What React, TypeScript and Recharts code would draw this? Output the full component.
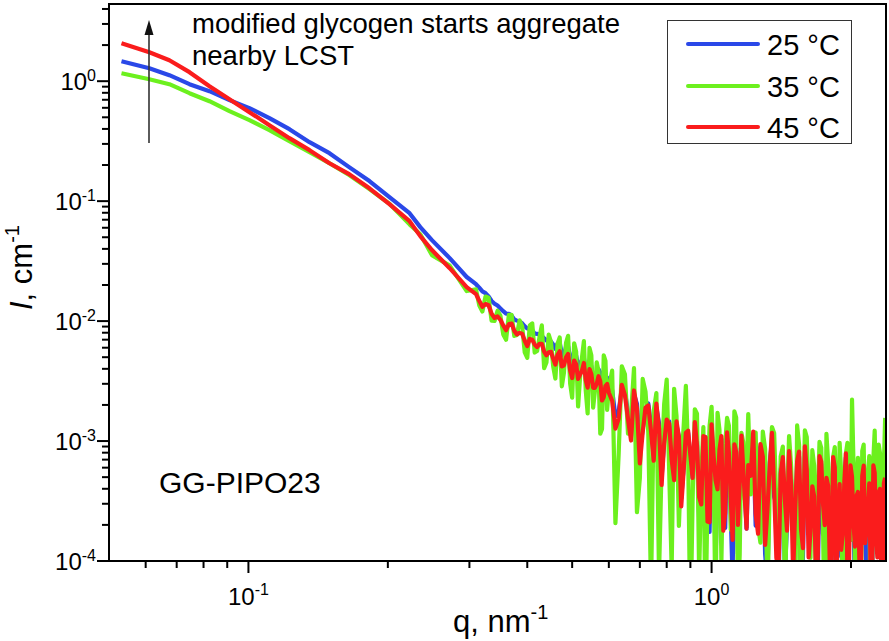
import React from 'react'
import { LineChart, Line, XAxis, YAxis } from 'recharts'

const FONT = '"Liberation Sans", Arial, sans-serif'

// q, nm^-1 — smooth low-q part, the noisy high-q grid and the points between it
const Q_LOW = [
  0.0532, 0.0611, 0.0675, 0.0746, 0.0824, 0.091, 0.1005, 0.111, 0.1226, 0.1355,
  0.1496, 0.165, 0.1825, 0.2016, 0.2228, 0.235, 0.249, 0.272, 0.296,
]
const Q_HIGH = [
  0.31, 0.32, 0.33, 0.34, 0.35, 0.36, 0.37, 0.38, 0.39, 0.4, 0.41, 0.42, 0.43, 0.44, 0.45,
  0.46, 0.47, 0.48, 0.49, 0.5, 0.51, 0.52, 0.53, 0.54, 0.55, 0.56, 0.57, 0.58, 0.59, 0.6,
  0.62, 0.64, 0.66, 0.68, 0.7, 0.72, 0.74, 0.76, 0.78, 0.8, 0.82, 0.84, 0.86, 0.88, 0.9,
  0.92, 0.94, 0.96, 0.98, 1.0, 1.02, 1.04, 1.06, 1.08, 1.1, 1.12, 1.14, 1.16, 1.18, 1.2,
  1.23, 1.26, 1.29, 1.32, 1.35, 1.38, 1.41, 1.44, 1.47, 1.5, 1.53, 1.56, 1.59, 1.62, 1.65,
  1.68, 1.71, 1.74, 1.77, 1.8, 1.83, 1.86, 1.89, 1.92, 1.95, 1.98, 2.01, 2.04, 2.07, 2.1,
  2.13, 2.16, 2.19, 2.22, 2.25, 2.28, 2.31, 2.34, 2.37,
]
const Q_MID = [
  0.315, 0.325, 0.335, 0.345, 0.355, 0.365, 0.375, 0.385, 0.395, 0.405, 0.415, 0.425, 0.435, 0.445, 0.455,
  0.465, 0.475, 0.485, 0.495, 0.505, 0.515, 0.525, 0.535, 0.545, 0.555, 0.565, 0.575, 0.585, 0.595,
  0.61, 0.63, 0.65, 0.67, 0.69, 0.71, 0.73, 0.75, 0.77, 0.79, 0.81, 0.83, 0.85, 0.87, 0.89,
  0.91, 0.93, 0.95, 0.97, 0.99, 1.01, 1.03, 1.05, 1.07, 1.09, 1.11, 1.13, 1.15, 1.17, 1.19,
  1.215, 1.245, 1.275, 1.305, 1.335, 1.365, 1.395, 1.425, 1.455, 1.485, 1.515, 1.545, 1.575,
  1.605, 1.635, 1.665, 1.695, 1.725, 1.755, 1.785, 1.815, 1.845, 1.875, 1.905, 1.935, 1.965,
  1.995, 2.025, 2.055, 2.085, 2.115, 2.145, 2.175, 2.205, 2.235, 2.265, 2.295, 2.325, 2.355,
]

// I, cm^-1 at 25 °C
const I_25_LOW = [
  1.468, 1.283, 1.122, 0.944, 0.825, 0.695, 0.596, 0.492, 0.398, 0.31, 0.251, 0.192,
  0.147, 0.108, 0.0794, 0.0607, 0.0473, 0.0335, 0.0233,
]
const I_25_HIGH = [
  0.0203, 0.01769, 0.01606, 0.01396, 0.01276, 0.01156, 0.0111, 0.01009, 0.00958, 0.00867,
  0.00838, 0.00783, 0.00754, 0.00688, 0.00677,
  0.00588, 0.00657, 0.00512, 0.0062, 0.0044, 0.00516, 0.00434, 0.00494, 0.0034, 0.00421,
  0.0034, 0.00397, 0.00266, 0.00333, 0.00278,
  0.00161, 0.00273, 0.00172, 0.00246, 0.000815, 0.00182, 0.00135, 0.00191, 0.000496, 0.00145,
  0.00081, 0.00136, 0.000333, 0.00108, 0.000714,
  0.00112, 0.000225, 0.000876, 0.000355, 0.00117, 0.000101, 0.000852, 0.000383, 0.000995, 0.000243,
  0.000885, 0.000115, 0.000945, 0.000378, 0.000629,
  0.001, 0.000241, 0.000693, 0.0000669, 0.001, 0.000296, 0.000578, 0.0000806, 0.000747, 0.00023,
  0.000639, 0.0000442, 0.000796, 0.000285, 0.000455, 0.000104, 0.00068, 0.000167, 0.000526, 0.0000455,
  0.000672, 0.000284, 0.000406, 0.000108, 0.00073, 0.00018, 0.000444, 0.0000527, 0.000522, 0.0002,
  0.000566, 0.000084, 0.000388, 0.0000438, 0.000515, 0.000214, 0.000398, 0.0000658, 0.000442,
]
const I_25_MID = [
  0.019, 0.01709, 0.01471, 0.01347, 0.0121, 0.01152, 0.0103, 0.00991, 0.00905, 0.00861,
  0.00784, 0.00775, 0.00718, 0.00688, 0.00639,
  0.00649, 0.00533, 0.00613, 0.00496, 0.00563, 0.00426, 0.00477, 0.00391, 0.00465, 0.00332,
  0.00376, 0.00373, 0.00273, 0.00338,
  0.00265, 0.00176, 0.0026, 0.0011, 0.00204, 0.00126, 0.00206, 0.000754, 0.00141, 0.00102,
  0.00146, 0.000525, 0.00108, 0.000598, 0.00117,
  0.000492, 0.001, 0.000259, 0.00108, 0.000175, 0.000816, 0.000462, 0.00104, 0.000189, 0.000793,
  0.000072, 0.00087, 0.000452, 0.000548, 0.000186,
  0.000564, 0.000197, 0.000897, 0.000114, 0.00066, 0.000343, 0.0000585, 0.000734, 0.000199, 0.000467,
  0.000228, 0.000744, 0.00011, 0.000539, 0.000212, 0.000348, 0.0000616, 0.00064, 0.000232, 0.000392,
  0.0000966, 0.000572, 0.000283, 0.000109, 0.00049, 0.0000453, 0.000596, 0.000235, 0.00032, 0.0000864,
  0.000485, 0.000169, 0.00025, 0.000055, 0.000571, 0.000189, 0.000347, 0.000066, 0.000418,
]

// I, cm^-1 at 35 °C
const I_35_LOW = [
  1.166, 1.039, 0.944, 0.794, 0.681, 0.562, 0.473, 0.391, 0.316, 0.256, 0.207, 0.165,
  0.126, 0.095, 0.064, 0.053, 0.0355, 0.029, 0.0178,
]
const I_35_HIGH = [
  0.0184, 0.01203, 0.01569, 0.01005, 0.01106, 0.00699, 0.01127, 0.00767, 0.00905, 0.00494,
  0.00957, 0.00563, 0.00921, 0.00451, 0.00671,
  0.00332, 0.0073, 0.00372, 0.00753, 0.0023, 0.00556, 0.00339, 0.0068, 0.0017, 0.00518,
  0.00263, 0.00382, 0.00126, 0.00466, 0.00278,
  0.000207, 0.0042, 0.00115, 0.00405, 0.00049, 0.00258, 0.0000568, 0.00251, 0.00062, 0.00325,
  0.0000864, 0.00162, 0.000665, 0.00288, 0.0000252,
  0.00184, 0.000075, 0.00131, 0.000355, 0.00193, 0.0000336, 0.00124, 0.000766, 0.00156, 0.000182,
  0.00177, 0.0000458, 0.00117, 0.000324, 0.00168,
  0.001, 0.000193, 0.0012, 0.0000446, 0.00131, 0.000296, 0.000743, 0.0000484, 0.0011, 0.000192,
  0.00135, 0.0000221, 0.00123, 0.000356, 0.00084, 0.000069, 0.000986, 0.0002, 0.00115, 0.0000488,
  0.000736, 0.000253, 0.000967, 0.0000246, 0.00079, 0.00036, 0.00222, 0.0000879, 0.000725, 0.0000286,
  0.000934, 0.000252, 0.000748, 0.0000685, 0.00122, 0.000161, 0.000795, 0.0000316, 0.00156,
]
const I_35_MID = [
  0.01357, 0.01602, 0.01008, 0.0122, 0.00774, 0.01125, 0.00753, 0.01014, 0.00548, 0.00922,
  0.00547, 0.00732, 0.00405, 0.0077, 0.00419,
  0.00649, 0.00286, 0.00658, 0.00302, 0.00653, 0.00194, 0.00495, 0.00262, 0.00598, 0.0019,
  0.00452, 0.00115, 0.00519, 0.00182,
  0.00386, 0.00077, 0.0036, 0.00165, 0.000255, 0.0033, 0.00118, 0.00178, 0.0000768, 0.00204,
  0.00056, 0.00273, 0.000196, 0.00129, 0.000783,
  0.000328, 0.00169, 0.000518, 0.0000288, 0.00133, 0.000612, 0.00172, 0.0000975, 0.000945, 0.00134,
  0.0003, 0.00157, 0.000113, 0.000986, 0.000479,
  0.000359, 0.00118, 0.000142, 0.000863, 0.000396, 0.00116, 0.0000836, 0.000898, 0.000318, 0.000622,
  0.000038, 0.00093, 0.000183, 0.00108, 0.000106, 0.000626, 0.000308, 0.000876, 0.0000232, 0.000654,
  0.000322, 0.00089, 0.000126, 0.000527, 0.0000306, 0.000966, 0.000149, 0.000647, 0.000407, 0.0000576,
  0.000827, 0.000197, 0.000528, 0.0000138, 0.000707, 0.000297, 0.000935, 0.000106, 0.000626,
]

// I, cm^-1 at 45 °C
const I_45_LOW = [
  2.073, 1.745, 1.496, 1.189, 0.908, 0.708, 0.552, 0.43, 0.335, 0.266, 0.207, 0.168,
  0.128, 0.0944, 0.0681, 0.0511, 0.0391, 0.0276, 0.0192,
]
const I_45_HIGH = [
  0.0168, 0.01316, 0.01355, 0.01061, 0.01025, 0.00839, 0.00954, 0.00775, 0.00784, 0.0062,
  0.007, 0.00607, 0.00647, 0.00519, 0.00553,
  0.00434, 0.0056, 0.00428, 0.00532, 0.00335, 0.00437, 0.00358, 0.00448, 0.00279, 0.00363,
  0.00278, 0.00347, 0.00218, 0.00287, 0.00253,
  0.00127, 0.00294, 0.00153, 0.00264, 0.00065, 0.0019, 0.00121, 0.00205, 0.00043, 0.00151,
  0.0007, 0.00146, 0.000285, 0.00117, 0.00076,
  0.00144, 0.00034, 0.0011, 0.000213, 0.00138, 0.00047, 0.00085, 0.000179, 0.00118, 0.000334,
  0.00094, 0.0002, 0.00111, 0.000324, 0.00063,
  0.0012, 0.000169, 0.00074, 0.000268, 0.00117, 0.000106, 0.000537, 0.000322, 0.000825, 0.0000768,
  0.000677, 0.000184, 0.000905, 0.000107, 0.00042, 0.0000759, 0.000748, 0.000301, 0.000494, 0.000091,
  0.000736, 0.0000569, 0.000437, 0.000169, 0.00079, 0.00009, 0.000503, 0.000132, 0.000377, 0.0000572,
  0.000623, 0.000182, 0.000443, 0.0000685, 0.000542, 0.000107, 0.000398, 0.0000579, 0.000494,
]
const I_45_MID = [
  0.01478, 0.01388, 0.0115, 0.01093, 0.0092, 0.00945, 0.00829, 0.00796, 0.00686, 0.0071,
  0.00637, 0.00647, 0.00556, 0.0055, 0.00487,
  0.00524, 0.00419, 0.00499, 0.00388, 0.00469, 0.00329, 0.00385, 0.00321, 0.00398, 0.00278,
  0.00301, 0.00316, 0.00232, 0.00299,
  0.00217, 0.00154, 0.0024, 0.00101, 0.00187, 0.00118, 0.00198, 0.000685, 0.00128, 0.00096,
  0.0014, 0.000473, 0.00108, 0.000552, 0.00122,
  0.000492, 0.000924, 0.000296, 0.00108, 0.00021, 0.000748, 0.000396, 0.0011, 0.000252, 0.000793,
  0.00015, 0.000812, 0.000452, 0.000603, 0.000186,
  0.000513, 0.000246, 0.000944, 0.000136, 0.000616, 0.000386, 0.0000836, 0.000734, 0.000179, 0.000428,
  0.000266, 0.000818, 0.000128, 0.000574, 0.000177, 0.000348, 0.000103, 0.000674, 0.000199, 0.000425,
  0.0000805, 0.000604, 0.000251, 0.000124, 0.000459, 0.0000664, 0.000626, 0.000206, 0.000349, 0.000101,
  0.000513, 0.000141, 0.000278, 0.000077, 0.000626, 0.000162, 0.000374, 0.0000792, 0.000444,
]

const SERIES_NAMES = ['25 °C', '35 °C', '45 °C']
const SERIES_COLORS = ['#2a48e8', '#6cf01e', '#fa1c1c']

const X_DOMAIN = [0.05, 2.38]
const Y_DOMAIN = [0.0001, 4.4]
const X_TICKS = [0.06, 0.07, 0.08, 0.09, 0.1, 0.2, 0.3, 0.4, 0.5, 0.6, 0.7, 0.8, 0.9, 1, 2]
const Y_DECADES = [0.0001, 0.001, 0.01, 0.1, 1]
const Y_MANTISSAS = [1, 2, 3, 4, 5, 6, 7, 8, 9]
const Y_TICKS = Y_DECADES.flatMap((d) => Y_MANTISSAS.map((m) => m * d)).filter((v) => v <= 4.01)

const toRows = (low: number[], high: number[], mid: number[]) =>
  [
    ...Q_LOW.map((q, k) => ({ q, i: low[k] })),
    ...Q_HIGH.map((q, k) => ({ q, i: high[k] })),
    ...Q_MID.map((q, k) => ({ q, i: mid[k] })),
  ].sort((a, b) => a.q - b.q)

const SERIES = [
  toRows(I_25_LOW, I_25_HIGH, I_25_MID),
  toRows(I_35_LOW, I_35_HIGH, I_35_MID),
  toRows(I_45_LOW, I_45_HIGH, I_45_MID),
]

const W = 889
const H = 641
const PLOT = { left: 109, top: 4, right: 886, bottom: 561 }

const isDecade = (v: number) => Math.abs(Math.log10(v) - Math.round(Math.log10(v))) < 1e-6

function XTick(props: any) {
  const { x, y, payload } = props
  const major = isDecade(payload.value)
  const exp = Math.round(Math.log10(payload.value))
  return (
    <g>
      <line x1={x} x2={x} y1={y} y2={y + (major ? 12 : 7)} stroke="#000" strokeWidth={2} />
      {major && (
        <text x={x} y={y + 44} textAnchor="middle" fontSize={24} fill="#000" fontFamily={FONT}>
          10
          <tspan dy={-10} fontSize={16}>
            {exp}
          </tspan>
        </text>
      )}
    </g>
  )
}

function YTick(props: any) {
  const { x, y, payload } = props
  const major = isDecade(payload.value)
  const exp = Math.round(Math.log10(payload.value))
  return (
    <g>
      <line x1={x - (major ? 12 : 7)} x2={x} y1={y} y2={y} stroke="#000" strokeWidth={2} />
      {major && (
        <text x={x - 13} y={y + 9} textAnchor="end" fontSize={24} fill="#000" fontFamily={FONT}>
          10
          <tspan dy={-9} fontSize={16}>
            {exp}
          </tspan>
        </text>
      )}
    </g>
  )
}

function Overlay() {
  const legendRows = [44, 86, 127]
  return (
    <svg
      width={W}
      height={H}
      style={{ position: 'absolute', left: 0, top: 0, pointerEvents: 'none' }}
      fontFamily={FONT}
    >
      <rect
        x={PLOT.left}
        y={PLOT.top}
        width={PLOT.right - PLOT.left}
        height={PLOT.bottom - PLOT.top}
        fill="none"
        stroke="#000"
        strokeWidth={2}
      />
      {/* arrow */}
      <line x1={149} x2={149} y1={143} y2={32} stroke="#333" strokeWidth={1.6} />
      <polygon points="149,20 144.5,35 153.5,35" fill="#111" />
      <text x={192} y={33} fontSize={27.5} fill="#000">
        modified glycogen starts aggregate
      </text>
      <text x={192} y={65} fontSize={27.5} fill="#000">
        nearby LCST
      </text>
      <text x={159} y={493} fontSize={30} fill="#000">
        GG-PIPO23
      </text>
      {/* legend */}
      <rect x={667.5} y={20.5} width={184} height={123} fill="#fff" stroke="#333" strokeWidth={1} />
      {SERIES_NAMES.map((name, k) => (
        <g key={name}>
          <line
            x1={688}
            x2={758}
            y1={legendRows[k]}
            y2={legendRows[k]}
            stroke={SERIES_COLORS[k]}
            strokeWidth={4}
            strokeLinecap="round"
          />
          <text x={767} y={legendRows[k] + 11} fontSize={29} fill="#000">
            {name}
          </text>
        </g>
      ))}
      {/* axis titles */}
      <text x={453} y={632} fontSize={31} fill="#000">
        q, nm
        <tspan dy={-13} fontSize={20}>
          -1
        </tspan>
      </text>
      <text x={32} y={310} fontSize={31} fill="#000" transform="rotate(-90 32 310)">
        <tspan fontStyle="italic">I</tspan>, cm
        <tspan dy={-13} fontSize={20}>
          -1
        </tspan>
      </text>
    </svg>
  )
}

export default function App() {
  return (
    <div
      style={{
        position: 'absolute',
        left: 0,
        top: 0,
        width: W,
        height: H,
        background: '#fff',
        fontFamily: FONT,
      }}
    >
      <LineChart
        width={W}
        height={H}
        margin={{ top: PLOT.top, right: W - PLOT.right, bottom: 0, left: 0 }}
      >
        <XAxis
          dataKey="q"
          type="number"
          scale="log"
          domain={X_DOMAIN}
          allowDataOverflow
          ticks={X_TICKS}
          interval={0}
          tick={<XTick />}
          tickSize={0}
          tickMargin={0}
          tickLine={false}
          axisLine={false}
          height={H - PLOT.bottom}
        />
        <YAxis
          type="number"
          scale="log"
          domain={Y_DOMAIN}
          allowDataOverflow
          ticks={Y_TICKS}
          interval={0}
          tick={<YTick />}
          tickSize={0}
          tickMargin={0}
          tickLine={false}
          axisLine={false}
          width={PLOT.left}
        />
        {SERIES.map((rows, k) => (
          <Line
            key={SERIES_NAMES[k]}
            data={rows}
            dataKey="i"
            name={SERIES_NAMES[k]}
            type="linear"
            stroke={SERIES_COLORS[k]}
            strokeWidth={4.2}
            strokeLinejoin="round"
            dot={false}
            activeDot={false}
            isAnimationActive={false}
          />
        ))}
      </LineChart>
      <Overlay />
    </div>
  )
}
